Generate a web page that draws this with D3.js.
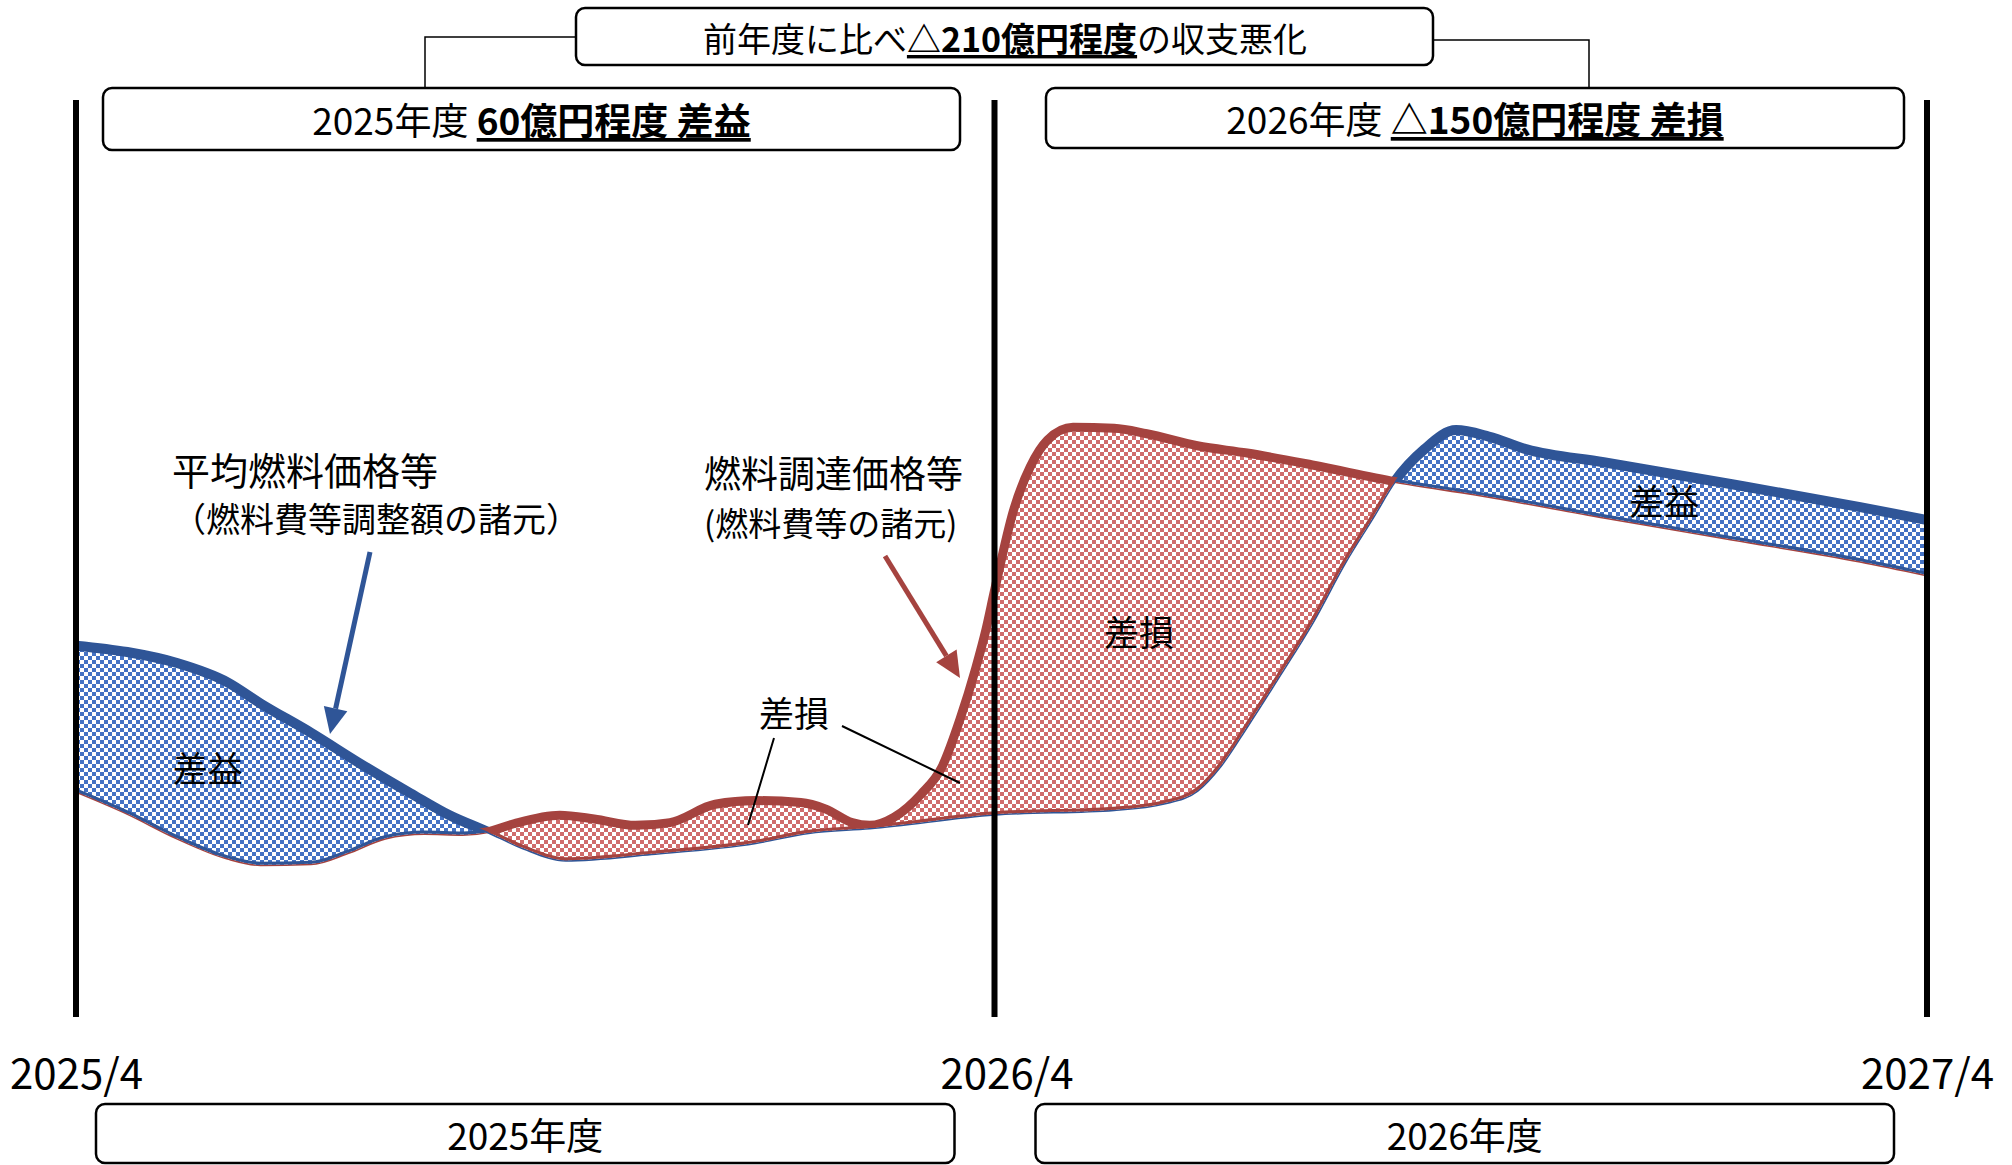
<!DOCTYPE html>
<html>
<head>
<meta charset="utf-8">
<script src="https://cdn.jsdelivr.net/npm/d3@7"></script>
<style>
  body { margin: 0; background: #fff; }
  svg { display: block; font-family: "Noto Sans CJK JP", "Noto Sans", sans-serif; }
</style>
</head>
<body>
<svg id="chart" width="2012" height="1165"></svg>
<script>
// months since 2025/4, price level (arbitrary index)
const avgFuelPrice = [
  [0, 40.5], [0.67, 39.8], [1.32, 38.6], [1.98, 36.5], [2.41, 34.2], [3.07, 31.0],
  [3.72, 27.6], [4.37, 24.4], [4.88, 22.0], [5.38, 20.2], [5.85, 18.4], [6.40, 17.1],
  [7.52, 17.8], [8.88, 19.0], [9.57, 20.1], [10.37, 20.6], [12, 22.1], [13.54, 22.6],
  [14.18, 23.3], [14.61, 24.7], [14.91, 27.4], [15.25, 31.7], [15.68, 37.4], [16.09, 43.0],
  [16.52, 49.7], [16.87, 54.5], [17.15, 58.4], [17.53, 61.9], [17.94, 64.0], [18.36, 63.3],
  [18.85, 61.9], [19.84, 60.5], [21.49, 58.1], [23.14, 55.6], [24, 54.2]
];
const procurementPrice = [
  [0, 24.6], [0.67, 22.2], [1.32, 19.5], [1.98, 17.3], [2.41, 16.6], [3.07, 16.7],
  [3.55, 17.9], [4.04, 19.5], [4.55, 20.0], [5.05, 19.9], [5.38, 20.2], [5.73, 21.1],
  [6.32, 22.0], [6.77, 21.6], [7.31, 20.9], [7.76, 21.2], [8.35, 23.2], [8.88, 23.6],
  [9.47, 23.4], [9.79, 22.7], [10.14, 21.2], [10.37, 20.9], [10.69, 21.8], [11.04, 24.3],
  [11.31, 27.2], [11.55, 32.5], [11.75, 37.9], [11.89, 42.3], [12, 46.5], [12.25, 55.4],
  [12.46, 60.0], [12.68, 62.9], [13.01, 64.3], [13.54, 64.2], [13.96, 63.6], [14.61, 62.3],
  [15.25, 61.5], [16.09, 60.2], [17.15, 58.4], [18.19, 57.0], [19.84, 54.5], [21.49, 52.1],
  [23.14, 49.7], [24, 48.2]
];

const boundaryMonths = [0, 12, 24];
const boundaryLabels = ["2025/4", "2026/4", "2027/4"];
const fiscalYears = ["2025年度", "2026年度"];

// [plain text, bold+underlined text] for each year summary
const yearSummaries = [
  ["2025年度 ", "60億円程度 差益"],
  ["2026年度 ", "△150億円程度 差損"]
];
const comparisonText = ["前年度に比べ", "△210億円程度", "の収支悪化"];

// region labels [month, value, text]
const regionLabels = [
  [1.72, 27.3, "差益"],
  [13.86, 42.2, "差損"],
  [20.62, 56.4, "差益"],
  [9.38, 33.3, "差損"]
];

const blueLine = "#2F5597", blueFill = "#4472C4";
const redLine = "#A5433F", redFill = "#D06B6B";

const svg = d3.select("#chart");
const W = 2012, H = 1165;

const x = d3.scaleLinear().domain(boundaryMonths).range([76, 994.5, 1927]);
const y = d3.scaleLinear().domain([0, 100]).range([1017, 100]);

const line = d3.line()
  .x(d => x(d[0]))
  .y(d => y(d[1]))
  .curve(d3.curveMonotoneX);

const defs = svg.append("defs");

function checker(id, color) {
  let p = defs.append("pattern")
    .attr("id", id)
    .attr("width", 8).attr("height", 8)
    .attr("patternUnits", "userSpaceOnUse");
  p.append("rect").attr("width", 8).attr("height", 8).attr("fill", "#fff");
  p.append("rect").attr("width", 4).attr("height", 4).attr("fill", color);
  p.append("rect").attr("x", 4).attr("y", 4).attr("width", 4).attr("height", 4).attr("fill", color);
}
checker("chkBlue", blueFill);
checker("chkRed", redFill);

// clip regions above / below each curve
function halfPlane(id, data, edge) {
  let d = line(data) + "L" + x(24) + "," + edge + "L" + x(0) + "," + edge + "Z";
  defs.append("clipPath").attr("id", id).append("path").attr("d", d);
}
halfPlane("aboveRed", procurementPrice, 0);
halfPlane("belowRed", procurementPrice, H);
halfPlane("aboveBlue", avgFuelPrice, 0);
halfPlane("belowBlue", avgFuelPrice, H);

// thin base lines
svg.append("path").attr("d", line(procurementPrice))
  .attr("fill", "none").attr("stroke", redLine).attr("stroke-width", 3);
svg.append("path").attr("d", line(avgFuelPrice))
  .attr("fill", "none").attr("stroke", blueLine).attr("stroke-width", 3);

// filled gaps
function band(outerClip, innerClip, pattern, color) {
  let g = svg.append("g").attr("clip-path", "url(#" + outerClip + ")")
    .append("g").attr("clip-path", "url(#" + innerClip + ")");
  g.append("rect")
    .attr("x", x(0)).attr("y", 0)
    .attr("width", x(24) - x(0)).attr("height", H)
    .attr("fill", "url(#" + pattern + ")");
  [avgFuelPrice, procurementPrice].forEach(s => {
    g.append("path").attr("d", line(s))
      .attr("fill", "none").attr("stroke", color).attr("stroke-width", 6);
  });
}
band("aboveRed", "belowBlue", "chkBlue", blueLine);
band("aboveBlue", "belowRed", "chkRed", redLine);

// thick upper lines
svg.append("g").attr("clip-path", "url(#aboveRed)")
  .append("path").attr("d", line(avgFuelPrice))
  .attr("fill", "none").attr("stroke", blueLine).attr("stroke-width", 10);
svg.append("g").attr("clip-path", "url(#aboveBlue)")
  .append("path").attr("d", line(procurementPrice))
  .attr("fill", "none").attr("stroke", redLine).attr("stroke-width", 9);

// year boundaries
svg.selectAll(".boundary")
  .data(boundaryMonths)
  .enter()
  .append("line")
  .attr("class", "boundary")
  .attr("x1", d => x(d)).attr("x2", d => x(d))
  .attr("y1", y(100)).attr("y2", y(0))
  .attr("stroke", "#000").attr("stroke-width", 6);

// axis labels
let axis = svg.append("g")
  .attr("transform", "translate(0,1074)")
  .call(d3.axisBottom(x).tickValues(boundaryMonths).tickSize(0)
    .tickFormat((d, i) => boundaryLabels[i]));
axis.select(".domain").remove();
axis.selectAll("text")
  .attr("y", 0).attr("dy", "0.35em")
  .attr("dx", (d, i) => i == 1 ? 12 : 0)
  .attr("font-size", 42)
  .attr("font-family", "'Noto Sans CJK JP', sans-serif")
  .attr("fill", "#000");

// rounded boxes
function box(x0, y0, x1, y1) {
  svg.append("rect")
    .attr("x", x0).attr("y", y0)
    .attr("width", x1 - x0).attr("height", y1 - y0)
    .attr("rx", 9)
    .attr("fill", "#fff").attr("stroke", "#000").attr("stroke-width", 2.5);
}

// fiscal year boxes at the bottom
fiscalYears.forEach((t, i) => {
  let a = x(boundaryMonths[i]), b = x(boundaryMonths[i + 1]);
  let x0 = i == 0 ? a + 20 : a + 41, x1 = i == 0 ? b - 40 : b - 33;
  box(x0, 1104, x1, 1163);
  svg.append("text")
    .attr("x", (x0 + x1) / 2).attr("y", 1134)
    .attr("text-anchor", "middle").attr("dominant-baseline", "central")
    .attr("font-size", 37)
    .text(t);
});

// connectors
svg.append("path")
  .attr("d", "M576,37H425V88M1433,40H1589V88")
  .attr("fill", "none").attr("stroke", "#000").attr("stroke-width", 1.5);

// summary boxes on top
let summaryBoxes = [[103, 88, 960, 150], [1046, 88, 1904, 148]];
yearSummaries.forEach((s, i) => {
  let bx = summaryBoxes[i];
  box(bx[0], bx[1], bx[2], bx[3]);
  let t = svg.append("text")
    .attr("x", (bx[0] + bx[2]) / 2).attr("y", (bx[1] + bx[3]) / 2)
    .attr("text-anchor", "middle").attr("dominant-baseline", "central")
    .attr("font-size", 37);
  t.append("tspan").text(s[0]);
  t.append("tspan").attr("font-weight", "bold")
    .style("text-decoration", "underline").text(s[1]);
});

box(576, 8, 1433, 65);
let ct = svg.append("text")
  .attr("x", 1005).attr("y", 37)
  .attr("text-anchor", "middle").attr("dominant-baseline", "central")
  .attr("font-size", 34);
ct.append("tspan").text(comparisonText[0]);
ct.append("tspan").attr("font-weight", "bold")
  .style("text-decoration", "underline").text(comparisonText[1]);
ct.append("tspan").text(comparisonText[2]);

// region labels
svg.selectAll(".region")
  .data(regionLabels)
  .enter()
  .append("text")
  .attr("class", "region")
  .attr("x", d => x(d[0])).attr("y", d => y(d[1]))
  .attr("text-anchor", "middle").attr("dominant-baseline", "central")
  .attr("font-size", 35)
  .text(d => d[2]);

// leader lines for the small loss area
svg.append("path")
  .attr("d", "M774,738L748,825M842,726L960,783")
  .attr("fill", "none").attr("stroke", "#000").attr("stroke-width", 2);

// series annotations
function note(x0, y0, lines, sizes) {
  lines.forEach((l, i) => {
    svg.append("text")
      .attr("x", x0).attr("y", y0[i])
      .attr("dominant-baseline", "central")
      .attr("font-size", sizes[i])
      .text(l);
  });
}
note(172, [468, 517], ["平均燃料価格等", "（燃料費等調整額の諸元）"], [38, 34]);
note(704, [472, 522], ["燃料調達価格等", "(燃料費等の諸元)"], [37, 33]);

function arrow(x0, y0, x1, y1, color) {
  let ang = Math.atan2(y1 - y0, x1 - x0);
  let len = 26, half = 12;
  let bx = x1 - len * Math.cos(ang), by = y1 - len * Math.sin(ang);
  svg.append("line")
    .attr("x1", x0).attr("y1", y0).attr("x2", bx).attr("y2", by)
    .attr("stroke", color).attr("stroke-width", 5);
  let px = -Math.sin(ang) * half, py = Math.cos(ang) * half;
  svg.append("path")
    .attr("d", "M" + x1 + "," + y1 + "L" + (bx + px) + "," + (by + py) + "L" + (bx - px) + "," + (by - py) + "Z")
    .attr("fill", color);
}
arrow(370, 552, 330, 734, blueLine);
arrow(885, 556, 960, 678, redLine);
</script>
</body>
</html>
